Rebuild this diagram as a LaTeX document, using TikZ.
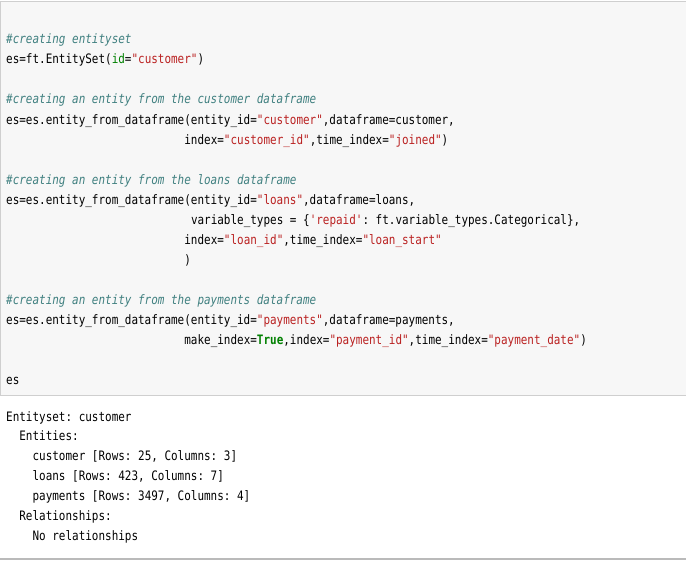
\documentclass[tikz,border=0pt]{standalone}
\usepackage{fontspec}
\setmonofont{DejaVu Sans Mono}[FakeStretch=0.843]
\usepackage{tikz}
\usetikzlibrary{positioning}
\definecolor{cellbg}{HTML}{F7F7F7}
\definecolor{cellline}{HTML}{CFCFCF}
\definecolor{cmtcol}{HTML}{408080}
\definecolor{strcol}{HTML}{BA2121}
\definecolor{kwcol}{HTML}{008000}
\newcommand{\cmt}[1]{\textcolor{cmtcol}{\itshape #1}}
\newcommand{\str}[1]{\textcolor{strcol}{#1}}
\newcommand{\kw}[1]{\textcolor{kwcol}{#1}}
\newcommand{\kwb}[1]{\textcolor{kwcol}{\bfseries #1}}
\tikzstyle{code}=[anchor=base west,inner sep=0pt,text=black]
\tikzstyle{every node}=[font=\ttfamily\fontsize{13}{15}\selectfont]

\begin{document}
\begin{tikzpicture}[x=1pt,y=-1pt]
  \useasboundingbox (0,0) rectangle (686,562);
  % input cell
  \draw[cellline,fill=cellbg] (0.5,0.8) rectangle (700,395);
  % code lines: column 6.6 wide, row 20.05 high
  \node[code] (in1) at (6,43.8) {\cmt{\#creating entityset}};
  \node[code] (in2) at (6,{43.8+20.05*1}) {es=ft.EntitySet(\kw{id}=\str{"customer"})};
  \node[code] (in4) at (6,{43.8+20.05*3}) {\cmt{\#creating an entity from the customer dataframe}};
  \node[code] (in5) at (6,{43.8+20.05*4}) {es=es.entity\_from\_dataframe(entity\_id=\str{"customer"},dataframe=customer,};
  \node[code] (in6) at ({6+27*6.6},{43.8+20.05*5}) {index=\str{"customer\_id"},time\_index=\str{"joined"})};
  \node[code] (in8) at (6,{43.8+20.05*7}) {\cmt{\#creating an entity from the loans dataframe}};
  \node[code] (in9) at (6,{43.8+20.05*8}) {es=es.entity\_from\_dataframe(entity\_id=\str{"loans"},dataframe=loans,};
  \node[code] (in10) at ({6+28*6.6},{43.8+20.05*9}) {variable\_types = \{\str{'repaid'}: ft.variable\_types.Categorical\},};
  \node[code] (in11) at ({6+27*6.6},{43.8+20.05*10}) {index=\str{"loan\_id"},time\_index=\str{"loan\_start"}};
  \node[code] (in12) at ({6+27*6.6},{43.8+20.05*11}) {)};
  \node[code] (in14) at (6,{43.8+20.05*13}) {\cmt{\#creating an entity from the payments dataframe}};
  \node[code] (in15) at (6,{43.8+20.05*14}) {es=es.entity\_from\_dataframe(entity\_id=\str{"payments"},dataframe=payments,};
  \node[code] (in16) at ({6+27*6.6},{43.8+20.05*15}) {make\_index=\kwb{True},index=\str{"payment\_id"},time\_index=\str{"payment\_date"})};
  \node[code] (in18) at (6,{43.8+20.05*17}) {es};
  % output area
  \node[code] (out1) at (6,421) {Entityset: customer};
  \node[code] (out2) at ({6+2*6.6},{421+19.85*1}) {Entities:};
  \node[code] (out3) at ({6+4*6.6},{421+19.85*2}) {customer [Rows: 25, Columns: 3]};
  \node[code] (out4) at ({6+4*6.6},{421+19.85*3}) {loans [Rows: 423, Columns: 7]};
  \node[code] (out5) at ({6+4*6.6},{421+19.85*4}) {payments [Rows: 3497, Columns: 4]};
  \node[code] (out6) at ({6+2*6.6},{421+19.85*5}) {Relationships:};
  \node[code] (out7) at ({6+4*6.6},{421+19.85*6}) {No relationships};
  \draw[cellline!90!black,line width=2.5pt] (0,558.8) -- (686,558.8);
\end{tikzpicture}
\end{document}
